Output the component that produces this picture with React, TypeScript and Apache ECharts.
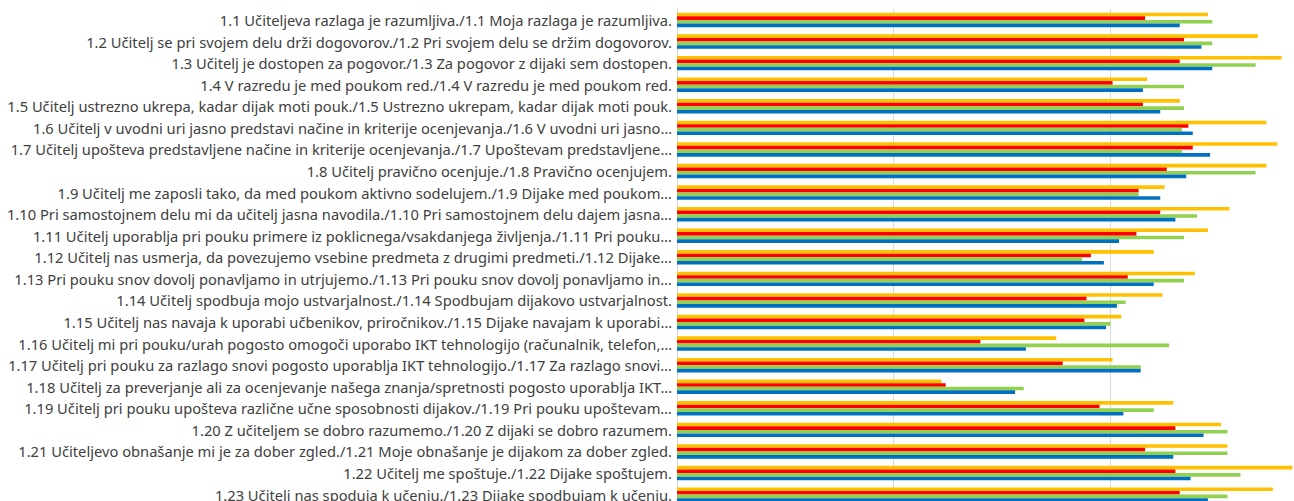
import React, { useEffect, useRef } from "react";
import * as echarts from "echarts";

const categories = [
  "1.1 Učiteljeva razlaga je razumljiva./1.1 Moja razlaga je razumljiva.",
  "1.2 Učitelj se pri svojem delu drži dogovorov./1.2 Pri svojem delu se držim dogovorov.",
  "1.3 Učitelj je dostopen za pogovor./1.3 Za pogovor z dijaki sem dostopen.",
  "1.4 V razredu je med poukom red./1.4 V razredu je med poukom red.",
  "1.5 Učitelj ustrezno ukrepa, kadar dijak moti pouk./1.5 Ustrezno ukrepam, kadar dijak moti pouk.",
  "1.6 Učitelj v uvodni uri jasno predstavi načine in kriterije ocenjevanja./1.6 V uvodni uri jasno…",
  "1.7 Učitelj upošteva predstavljene načine in kriterije ocenjevanja./1.7 Upoštevam predstavljene…",
  "1.8 Učitelj pravično ocenjuje./1.8 Pravično ocenjujem.",
  "1.9 Učitelj me zaposli tako, da med poukom aktivno sodelujem./1.9 Dijake med poukom…",
  "1.10 Pri samostojnem delu mi da učitelj jasna navodila./1.10 Pri samostojnem delu dajem jasna…",
  "1.11 Učitelj uporablja pri pouku primere iz poklicnega/vsakdanjega življenja./1.11 Pri pouku…",
  "1.12 Učitelj nas usmerja, da povezujemo vsebine predmeta z drugimi predmeti./1.12 Dijake…",
  "1.13 Pri pouku snov dovolj ponavljamo in utrjujemo./1.13 Pri pouku snov dovolj ponavljamo in…",
  "1.14 Učitelj spodbuja mojo ustvarjalnost./1.14 Spodbujam dijakovo ustvarjalnost.",
  "1.15 Učitelj nas navaja k uporabi učbenikov, priročnikov./1.15 Dijake navajam k uporabi…",
  "1.16 Učitelj mi pri pouku/urah pogosto omogoči uporabo IKT tehnologijo (računalnik, telefon,…",
  "1.17 Učitelj pri pouku za razlago snovi pogosto uporablja IKT tehnologijo./1.17 Za razlago snovi…",
  "1.18 Učitelj za preverjanje ali za ocenjevanje našega znanja/spretnosti pogosto uporablja IKT…",
  "1.19 Učitelj pri pouku upošteva različne učne sposobnosti dijakov./1.19 Pri pouku upoštevam…",
  "1.20 Z učiteljem se dobro razumemo./1.20 Z dijaki se dobro razumem.",
  "1.21 Učiteljevo obnašanje mi je za dober zgled./1.21 Moje obnašanje je dijakom za dober zgled.",
  "1.22 Učitelj me spoštuje./1.22 Dijake spoštujem.",
  "1.23 Učitelj nas spoduja k učenju./1.23 Dijake spodbujam k učenju.",
];

const yellowValues = [3.45, 3.68, 3.79, 3.17, 3.32, 3.72, 3.77, 3.72, 3.25, 3.55, 3.45, 3.2, 3.39, 3.24, 3.05, 2.75, 3.01, 2.22, 3.29, 3.51, 3.54, 3.84, 3.75];
const redValues = [3.16, 3.34, 3.32, 3.01, 3.15, 3.36, 3.38, 3.26, 3.13, 3.23, 3.12, 2.91, 3.08, 2.89, 2.88, 2.4, 2.78, 2.24, 2.95, 3.3, 3.16, 3.3, 3.32];
const greenValues = [3.47, 3.47, 3.67, 3.34, 3.34, 3.33, 3.33, 3.67, 3.13, 3.4, 3.34, 2.87, 3.34, 3.07, 3.0, 3.27, 3.14, 2.6, 3.2, 3.54, 3.54, 3.6, 3.54];
const blueValues = [3.32, 3.42, 3.47, 3.15, 3.23, 3.38, 3.46, 3.35, 3.23, 3.3, 3.04, 2.97, 3.2, 3.03, 2.98, 2.61, 3.14, 2.56, 3.06, 3.43, 3.29, 3.37, 3.45];

const seriesNames = ["A", "B", "C", "D"];
const seriesColors = ["#FFC000", "#FF0000", "#92D050", "#0070C0"];

export default function App() {
  const ref = useRef<HTMLDivElement>(null);
  useEffect(() => {
    if (!ref.current) return;
    const chart = echarts.init(ref.current, null, { renderer: "svg" });
    const data = [yellowValues, redValues, greenValues, blueValues];
    chart.setOption({
      animation: false,
      backgroundColor: "#ffffff",
      grid: { left: 677, top: 9.2, width: 866.8, height: 496.2 },
      xAxis: {
        type: "value",
        min: 1,
        max: 5,
        interval: 1,
        axisLabel: { show: false },
        axisLine: { show: false },
        axisTick: { show: false },
        splitLine: { show: true, lineStyle: { color: "#d9d9d9", width: 1 } },
      },
      yAxis: {
        type: "category",
        inverse: true,
        data: categories,
        axisLine: { show: true, lineStyle: { color: "#d9d9d9", width: 1 } },
        axisTick: { show: false },
        axisLabel: {
          margin: 5,
          color: "#404040",
          fontFamily: "Noto Sans",
          fontSize: 14.7,
        },
      },
      series: data.map((vals, i) => ({
        name: seriesNames[i],
        type: "bar",
        data: vals,
        barGap: "0%",
        barCategoryGap: "33%",
        itemStyle: { color: seriesColors[i] },
      })),
    });
    return () => chart.dispose();
  }, []);
  return (
    <div style={{ position: "fixed", left: 0, top: 0, width: 1294, height: 501, overflow: "hidden", background: "#fff" }}>
      <div ref={ref} style={{ width: 1560, height: 560 }} />
    </div>
  );
}
